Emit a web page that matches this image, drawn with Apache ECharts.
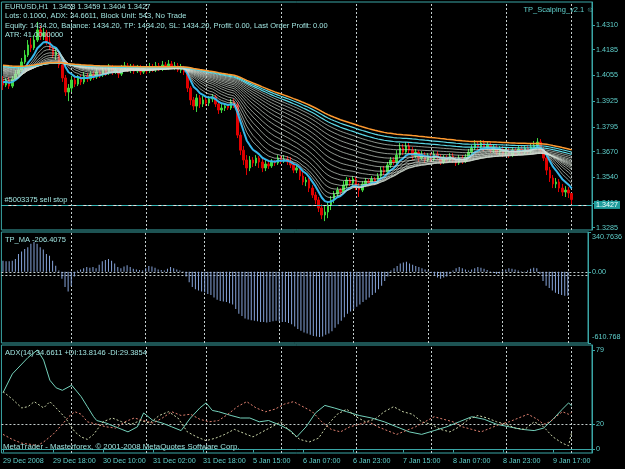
<!DOCTYPE html>
<html>
<head>
<meta charset="utf-8">
<script src="https://cdn.jsdelivr.net/npm/echarts@6/dist/echarts.min.js"></script>
<style>
html, body { margin: 0; padding: 0; background: #000; }
#chart { width: 625px; height: 469px; }
</style>
</head>
<body>
<div id="chart"></div>
<script>
// EURUSD H1 candles: [open, close, low, high]
var candles = [
[1.4032,1.4006,1.3981,1.4052],[1.4006,1.4032,1.3996,1.4042],[1.4032,1.4001,1.3986,1.4047],[1.4001,1.4037,1.3991,1.4052],
[1.4037,1.4062,1.4027,1.4082],[1.4062,1.4082,1.4052,1.4103],[1.4082,1.4123,1.4072,1.4143],[1.4123,1.4158,1.4113,1.4183],
[1.4158,1.4209,1.4148,1.4234],[1.4209,1.4194,1.4173,1.4244],[1.4194,1.4234,1.4183,1.4259],[1.4234,1.4285,1.4224,1.4325],
[1.4285,1.4254,1.4234,1.4305],[1.4254,1.4270,1.4234,1.4295],[1.4270,1.4224,1.4209,1.4285],[1.4224,1.4194,1.4183,1.4275],
[1.4194,1.4158,1.4143,1.4209],[1.4158,1.4173,1.4133,1.4194],[1.4173,1.4108,1.4092,1.4183],[1.4108,1.4042,1.4022,1.4123],
[1.4042,1.3971,1.3951,1.4057],[1.3971,1.3991,1.3925,1.4011],[1.3991,1.4032,1.3971,1.4052],[1.4032,1.4011,1.3996,1.4047],
[1.4011,1.4042,1.4001,1.4057],[1.4042,1.4022,1.4006,1.4057],[1.4022,1.4052,1.4011,1.4072],[1.4052,1.4037,1.4022,1.4067],
[1.4037,1.4062,1.4027,1.4077],[1.4062,1.4047,1.4032,1.4077],[1.4047,1.4072,1.4037,1.4092],[1.4072,1.4057,1.4042,1.4087],
[1.4057,1.4082,1.4047,1.4097],[1.4082,1.4067,1.4052,1.4103],[1.4067,1.4092,1.4057,1.4113],[1.4092,1.4072,1.4057,1.4108],
[1.4072,1.4082,1.4062,1.4103],[1.4082,1.4062,1.4042,1.4097],[1.4062,1.4087,1.4052,1.4108],[1.4087,1.4103,1.4077,1.4123],
[1.4103,1.4082,1.4072,1.4118],[1.4082,1.4097,1.4067,1.4113],[1.4097,1.4077,1.4062,1.4113],[1.4077,1.4092,1.4067,1.4108],
[1.4092,1.4072,1.4057,1.4108],[1.4072,1.4087,1.4062,1.4103],[1.4087,1.4077,1.4062,1.4103],[1.4077,1.4097,1.4067,1.4118],
[1.4097,1.4082,1.4072,1.4113],[1.4082,1.4103,1.4072,1.4123],[1.4103,1.4087,1.4077,1.4118],[1.4087,1.4108,1.4077,1.4128],
[1.4108,1.4092,1.4082,1.4123],[1.4092,1.4113,1.4082,1.4133],[1.4113,1.4097,1.4087,1.4128],[1.4097,1.4103,1.4082,1.4123],
[1.4103,1.4082,1.4072,1.4118],[1.4082,1.4092,1.4067,1.4113],[1.4092,1.4072,1.4057,1.4103],[1.4072,1.3991,1.3971,1.4082],
[1.3991,1.3931,1.3905,1.4001],[1.3931,1.3900,1.3880,1.3946],[1.3900,1.3941,1.3870,1.3961],[1.3941,1.3910,1.3890,1.3956],
[1.3910,1.3931,1.3895,1.3951],[1.3931,1.3915,1.3900,1.3946],[1.3915,1.3936,1.3900,1.3951],[1.3936,1.3946,1.3920,1.3961],
[1.3946,1.3910,1.3895,1.3956],[1.3910,1.3880,1.3860,1.3925],[1.3880,1.3890,1.3865,1.3910],[1.3890,1.3900,1.3875,1.3915],
[1.3900,1.3890,1.3880,1.3910],[1.3890,1.3920,1.3880,1.3936],[1.3920,1.3905,1.3890,1.3936],[1.3905,1.3753,1.3738,1.3920],
[1.3753,1.3677,1.3652,1.3768],[1.3677,1.3627,1.3602,1.3698],[1.3627,1.3587,1.3551,1.3652],[1.3587,1.3627,1.3571,1.3647],
[1.3627,1.3612,1.3592,1.3642],[1.3612,1.3637,1.3597,1.3652],[1.3637,1.3617,1.3587,1.3647],[1.3617,1.3587,1.3566,1.3632],
[1.3587,1.3607,1.3571,1.3627],[1.3607,1.3597,1.3582,1.3622],[1.3597,1.3617,1.3587,1.3632],[1.3617,1.3612,1.3597,1.3627],
[1.3612,1.3637,1.3602,1.3652],[1.3637,1.3622,1.3607,1.3647],[1.3622,1.3632,1.3612,1.3652],[1.3632,1.3617,1.3602,1.3647],
[1.3617,1.3602,1.3587,1.3642],[1.3602,1.3576,1.3561,1.3617],[1.3576,1.3587,1.3561,1.3602],[1.3587,1.3546,1.3526,1.3597],
[1.3546,1.3516,1.3500,1.3566],[1.3516,1.3526,1.3495,1.3541],[1.3526,1.3485,1.3465,1.3536],[1.3485,1.3450,1.3435,1.3500],
[1.3450,1.3425,1.3404,1.3465],[1.3425,1.3384,1.3364,1.3440],[1.3384,1.3349,1.3328,1.3404],[1.3349,1.3364,1.3318,1.3394],
[1.3364,1.3399,1.3333,1.3414],[1.3399,1.3425,1.3374,1.3445],[1.3425,1.3455,1.3409,1.3470],[1.3455,1.3475,1.3440,1.3490],
[1.3475,1.3465,1.3445,1.3485],[1.3465,1.3500,1.3455,1.3521],[1.3500,1.3526,1.3485,1.3541],[1.3526,1.3511,1.3495,1.3536],
[1.3511,1.3531,1.3500,1.3546],[1.3531,1.3495,1.3475,1.3541],[1.3495,1.3475,1.3440,1.3511],[1.3475,1.3506,1.3465,1.3521],
[1.3506,1.3521,1.3490,1.3536],[1.3521,1.3511,1.3495,1.3531],[1.3511,1.3531,1.3500,1.3546],[1.3531,1.3516,1.3500,1.3541],
[1.3516,1.3546,1.3506,1.3561],[1.3546,1.3576,1.3536,1.3592],[1.3576,1.3566,1.3551,1.3597],[1.3566,1.3602,1.3556,1.3617],
[1.3602,1.3627,1.3587,1.3642],[1.3627,1.3617,1.3602,1.3642],[1.3617,1.3652,1.3607,1.3677],[1.3652,1.3688,1.3637,1.3713],
[1.3688,1.3667,1.3652,1.3708],[1.3667,1.3698,1.3657,1.3718],[1.3698,1.3677,1.3662,1.3713],[1.3677,1.3647,1.3627,1.3693],
[1.3647,1.3667,1.3637,1.3683],[1.3667,1.3637,1.3617,1.3677],[1.3637,1.3652,1.3627,1.3672],[1.3652,1.3627,1.3612,1.3667],
[1.3627,1.3647,1.3617,1.3662],[1.3647,1.3632,1.3617,1.3662],[1.3632,1.3657,1.3622,1.3672],[1.3657,1.3642,1.3627,1.3672],
[1.3642,1.3617,1.3602,1.3657],[1.3617,1.3637,1.3607,1.3652],[1.3637,1.3627,1.3612,1.3652],[1.3627,1.3647,1.3617,1.3662],
[1.3647,1.3627,1.3612,1.3662],[1.3627,1.3612,1.3597,1.3642],[1.3612,1.3637,1.3602,1.3652],[1.3637,1.3622,1.3607,1.3652],
[1.3622,1.3642,1.3612,1.3657],[1.3642,1.3667,1.3632,1.3683],[1.3667,1.3688,1.3652,1.3703],[1.3688,1.3708,1.3677,1.3728],
[1.3708,1.3693,1.3677,1.3723],[1.3693,1.3713,1.3683,1.3728],[1.3713,1.3688,1.3672,1.3728],[1.3688,1.3703,1.3677,1.3718],
[1.3703,1.3677,1.3662,1.3718],[1.3677,1.3693,1.3662,1.3708],[1.3693,1.3667,1.3652,1.3708],[1.3667,1.3683,1.3652,1.3698],
[1.3683,1.3657,1.3642,1.3698],[1.3657,1.3672,1.3647,1.3688],[1.3672,1.3652,1.3637,1.3688],[1.3652,1.3677,1.3642,1.3693],
[1.3677,1.3662,1.3647,1.3693],[1.3662,1.3683,1.3652,1.3698],[1.3683,1.3667,1.3652,1.3698],[1.3667,1.3688,1.3657,1.3703],
[1.3688,1.3672,1.3657,1.3703],[1.3672,1.3693,1.3662,1.3713],[1.3693,1.3703,1.3677,1.3723],[1.3703,1.3718,1.3693,1.3738],
[1.3718,1.3677,1.3662,1.3733],[1.3677,1.3637,1.3622,1.3693],[1.3637,1.3576,1.3551,1.3652],[1.3576,1.3536,1.3516,1.3592],
[1.3536,1.3506,1.3485,1.3551],[1.3506,1.3516,1.3485,1.3536],[1.3516,1.3485,1.3465,1.3531],[1.3485,1.3465,1.3445,1.3506],
[1.3465,1.3475,1.3440,1.3495],[1.3475,1.3460,1.3435,1.3490],[1.3458,1.3427,1.3404,1.3459]
];

// TP_MA histogram, one value per bar
var tpma = [
95,90,90,95,110,153,173,196,211,240,254,240,211,190,153,138,95,52,10,
-60,-130,-170,-120,-40,
10,20,30,40,35,40,30,
60,90,100,110,95,70,40,
30,45,55,40,25,20,15,10,
30,50,45,35,20,15,10,
25,40,30,20,10,5,
-40,-90,-130,-150,-160,-170,
-175,-190,-200,-220,-240,-250,-255,-260,-270,-280,
-320,-360,-380,-400,-410,-415,-420,-425,-430,-430,-435,-430,-425,-420,-425,-430,
-430,-440,-450,-470,-490,-505,-520,-530,-540,-550,-555,-560,-555,-540,
-530,-510,-480,-450,-420,-390,-360,-340,-320,-300,-280,-260,-240,-220,-200,-180,-150,-120,-80,-40,
10,30,50,70,80,85,70,60,50,40,30,20,10,
-10,-30,-50,-60,-50,-40,-20,10,30,40,30,20,10,
20,30,40,35,25,15,5,-10,-20,-15,10,20,30,25,20,10,5,-5,10,25,35,
30,-20,-80,-120,-140,-160,-180,-190,-200,-205,-206
];

// ADX(14) readings: [bar index, value]
var adxLine = [[0,45],[3,60],[8,73],[11,79],[13,71],[15,55],[17,49],[19,47],[22,51],[25,42],[27,34],[29,26],[30,23],
  [33,21],[36,18],[40,14],[43,18],[45,29],[48,23],[51,21],[54,18],[57,15],[60,25],[63,33],[65,37],[67,31],[69,30],
  [73,27],[76,25],[79,25],[82,22],[85,23],[89,19],[92,15],[94,10],[97,18],[100,29],[103,35],[106,33],[110,30],
  [114,27],[118,25],[122,22],[126,18],[130,14],[134,12],[138,15],[142,18],[146,22],[150,26],[154,24],[158,20],
  [162,18],[166,16],[170,15],[173,17],[176,24],[179,32],[181,37],[182,34.66]];
var plusDI = [[0,46],[3,40],[6,33],[8,34],[10,38],[13,33],[15,38],[17,33],[20,25],[23,14],[25,10],[27,8],[29,12],
  [32,22],[35,25],[38,22],[41,20],[44,23],[47,21],[50,27],[53,30],[56,25],[59,14],[62,10],[65,7],[68,9],[71,12],
  [74,16],[77,13],[80,10],[83,14],[86,18],[89,22],[92,14],[95,8],[98,6],[101,9],[104,20],[107,28],[110,32],[113,26],
  [116,22],[119,24],[122,30],[125,34],[128,30],[131,28],[134,22],[137,20],[140,16],[143,14],[146,18],[149,24],
  [152,27],[155,25],[158,22],[161,20],[164,17],[167,16],[170,22],[173,18],[176,10],[179,5],[181,3],[182,13.81]];
var minusDI = [[0,12],[3,8],[6,5],[9,4],[11,3],[13,6],[16,12],[19,20],[21,26],[23,30],[25,28],[27,22],[30,20],
  [33,18],[36,17],[39,22],[42,25],[45,23],[48,21],[51,25],[54,30],[57,27],[60,28],[63,24],[66,22],[69,23],[72,28],
  [75,34],[78,38],[81,33],[84,30],[87,32],[90,36],[93,38],[96,34],[99,30],[102,22],[105,16],[108,14],[111,18],
  [114,20],[117,22],[120,18],[123,15],[126,12],[129,15],[132,18],[135,22],[138,26],[141,24],[144,22],[147,18],
  [150,16],[153,14],[156,17],[159,20],[162,22],[165,25],[168,28],[171,24],[173,20],[175,22],[177,26],[179,30],
  [181,28],[182,29.39]];

var timeLabels = ['29 Dec 2008','29 Dec 18:00','30 Dec 10:00','31 Dec 02:00','31 Dec 18:00','5 Jan 15:00',
  '6 Jan 07:00','6 Jan 23:00','7 Jan 15:00','8 Jan 07:00','8 Jan 23:00','9 Jan 17:00'];
var priceTicks = [1.4310, 1.4185, 1.4055, 1.3925, 1.3795, 1.3670, 1.3540, 1.3410, 1.3285];
var tpTicks = [340.7636, 0, -610.768];
var tpTickText = ['340.7636', '0.00', '-610.768'];
var adxTicks = [79, 20, 0];
var dayLines = [22, 46, 65, 89, 113, 137, 161, 182];

// moving average fan (periods) and where each line enters on the left
var maPeriods = [7, 10, 13, 17, 21, 26, 31, 37, 43, 50, 57, 65, 73, 82, 91, 100, 110, 120];
var maStart = [1.4025, 1.4040, 1.4050, 1.4058, 1.4063, 1.4068, 1.4072, 1.4076, 1.4080,
  1.4083, 1.4086, 1.4089, 1.4092, 1.4095, 1.4098, 1.4101, 1.4104, 1.4108];

var bidPrice = 1.3427;
var sellStop = 1.3400;

var nSlots = 189;
var cats = [];
for (var i = 0; i < nSlots; i++) cats.push(String(i));

var closes = candles.map(function (c) { return c[1]; });
function ema(period, seed) {
  var k = 2 / (period + 1), prev = seed, out = [];
  closes.forEach(function (c) { prev = prev + k * (c - prev); out.push(+prev.toFixed(5)); });
  return out;
}

var teal = '#3aa6a6';
var labelColor = '#5fd0cc';
var textColor = '#9fe2de';
var gridDash = '#c4cece';
var font = '"Liberation Sans", Arial, sans-serif';
var axisSize = 7.2;
var textSize = 7.5;

var myChart = echarts.init(document.getElementById('chart'));

var vLines = {
  symbol: 'none', silent: true, z: 1, animation: false,
  label: { show: false },
  lineStyle: { color: gridDash, type: [2, 2], width: 1 },
  data: dayLines.map(function (d) { return { xAxis: String(d) }; })
};

var series = [
  {
    type: 'candlestick', xAxisIndex: 0, yAxisIndex: 0, z: 2,
    data: candles, barWidth: 2,
    itemStyle: { color: '#3ed83e', color0: '#e00000', borderColor: '#3ed83e', borderColor0: '#e00000', borderWidth: 1 },
    markLine: vLines
  }
];

maPeriods.forEach(function (p, k) {
  var last = maPeriods.length - 1;
  var color = '#d2ddd2', width = 0.8, opacity = 0.85;
  if (k === 0) { color = '#36b6ea'; width = 2; opacity = 1; }
  else if (k === last) { color = '#ff9a30'; width = 1.5; opacity = 1; }
  else if (k >= last - 2) { color = '#5cd8e6'; width = 1.2; opacity = 1; }
  var s = {
    type: 'line', xAxisIndex: 0, yAxisIndex: 0, z: 3,
    data: ema(p, maStart[k]), showSymbol: false, silent: true,
    lineStyle: { color: color, width: width, opacity: opacity }
  };
  if (k === 0) {
    s.markLine = {
      symbol: 'none', silent: true, animation: false,
      data: [
        { yAxis: bidPrice, lineStyle: { color: '#e6e6e6', type: 'solid', width: 1 },
          label: { show: true, position: 'end', distance: 2, formatter: bidPrice.toFixed(4),
            color: '#f0ffff', backgroundColor: '#1f9c9c', padding: [1, 2, 0, 2], fontSize: axisSize, fontFamily: font } },
        { yAxis: sellStop, lineStyle: { color: '#35b4b4', type: [7, 3, 2, 3], width: 1 },
          label: { show: true, position: 'insideStartTop', distance: [3, 1], formatter: '#5003375 sell stop',
            color: textColor, fontSize: textSize, fontFamily: font } }
      ]
    };
  }
  series.push(s);
});

series.push({
  type: 'bar', xAxisIndex: 1, yAxisIndex: 1, z: 2,
  data: tpma, barWidth: 1, itemStyle: { color: '#86a4da' },
  markLine: {
    symbol: 'none', silent: true, z: 1, animation: false, label: { show: false },
    lineStyle: { color: gridDash, type: [2, 2], width: 1 },
    data: dayLines.map(function (d) { return { xAxis: String(d) }; }).concat([{ yAxis: 0 }, { yAxis: -30 }])
  }
});

series.push({
  type: 'line', xAxisIndex: 2, yAxisIndex: 2, z: 3, data: adxLine, showSymbol: false, silent: true,
  lineStyle: { color: '#74d2bc', width: 1 },
  markLine: {
    symbol: 'none', silent: true, z: 1, animation: false, label: { show: false },
    lineStyle: { color: gridDash, type: [2, 2], width: 1 },
    data: dayLines.map(function (d) { return { xAxis: String(d) }; }).concat([{ yAxis: 20 }])
  }
});
series.push({
  type: 'line', xAxisIndex: 2, yAxisIndex: 2, z: 3, data: plusDI, showSymbol: false, silent: true,
  lineStyle: { color: '#c9d4a8', width: 1, type: [2, 2] }
});
series.push({
  type: 'line', xAxisIndex: 2, yAxisIndex: 2, z: 3, data: minusDI, showSymbol: false, silent: true,
  lineStyle: { color: '#e08070', width: 1, type: [2, 2] }
});

function gridBox(top, height) {
  return { left: 1.4, width: 590.6, top: top, height: height, show: true,
    borderColor: teal, borderWidth: 1, backgroundColor: '#000' };
}

function xAx(idx, showLabels) {
  return {
    type: 'category', gridIndex: idx, data: cats, boundaryGap: true,
    axisLine: { show: showLabels, lineStyle: { color: teal } },
    axisTick: { show: showLabels, alignWithLabel: true, length: 3, lineStyle: { color: teal },
      interval: function (i) { return i % 16 === 0 && i / 16 < timeLabels.length; } },
    axisLabel: { show: showLabels, color: labelColor, fontSize: axisSize, fontFamily: font, align: 'left', margin: 5,
      interval: function (i) { return i % 16 === 0 && i / 16 < timeLabels.length; },
      formatter: function (v, i) { return timeLabels[i / 16] || ''; } },
    splitLine: { show: false }
  };
}

function yAx(idx, min, max, ticks, fmt) {
  return {
    type: 'value', gridIndex: idx, position: 'right', min: min, max: max, scale: true,
    axisLine: { show: true, lineStyle: { color: teal } },
    axisTick: { show: true, length: 3, lineStyle: { color: teal }, customValues: ticks },
    axisLabel: { color: labelColor, fontSize: axisSize, fontFamily: font, margin: 4, customValues: ticks, formatter: fmt,
      rich: { t: { color: labelColor, fontSize: axisSize, fontFamily: font, padding: [10, 0, 0, 0] },
              b: { color: labelColor, fontSize: axisSize, fontFamily: font, padding: [0, 0, 12, 0] } } },
    splitLine: { show: false }
  };
}

function txt(x, y, s, color, size) {
  return { type: 'text', x: x, y: y, z: 10, silent: true,
    style: { text: s, fill: color || textColor, font: (size || textSize) + 'px ' + font } };
}

var option = {
  backgroundColor: '#000',
  animation: false,
  grid: [gridBox(2, 228), gridBox(232, 111), gridBox(345, 108)],
  xAxis: [xAx(0, false), xAx(1, false), xAx(2, true)],
  yAxis: [
    yAx(0, 1.32731, 1.44263, priceTicks, function (v) { return v.toFixed(4); }),
    yAx(1, -610.768, 340.7636, tpTicks, function (v) {
      var k = tpTicks.indexOf(v);
      if (k === 0) return '{t|' + tpTickText[k] + '}';
      if (k === 2) return '{b|' + tpTickText[k] + '}';
      return k >= 0 ? tpTickText[k] : '';
    }),
    yAx(2, -2.78, 82.97, adxTicks, function (v) { return String(v); })
  ],
  series: series,
  graphic: [
    txt(5, 3, 'EURUSD,H1  1.3458 1.3459 1.3404 1.3427'),
    txt(5, 12, 'Lots: 0.1000, ADX: 34.6611, Block Unit: 543, No Trade'),
    txt(5, 21.5, 'Equity: 1434.20, Balance: 1434.20, TP: 1434.20, SL: 1434.20, Profit: 0.00, Last Order Profit: 0.00'),
    txt(5, 30.5, 'ATR: 41.0000000'),
    { type: 'text', right: 31, top: 6, z: 10, silent: true,
      style: { text: 'TP_Scalping_v2.1 \u263A', fill: labelColor, font: textSize + 'px ' + font } },
    txt(5, 236, 'TP_MA -206.4075'),
    txt(5, 348.5, 'ADX(14) 34.6611 +DI:13.8146 -DI:29.3854'),
    txt(3, 443, 'MetaTrader - Masterforex, \u00A9 2001-2008 MetaQuotes Software Corp.', textColor, 7.8)
  ]
};

myChart.setOption(option);
</script>
</body>
</html>
